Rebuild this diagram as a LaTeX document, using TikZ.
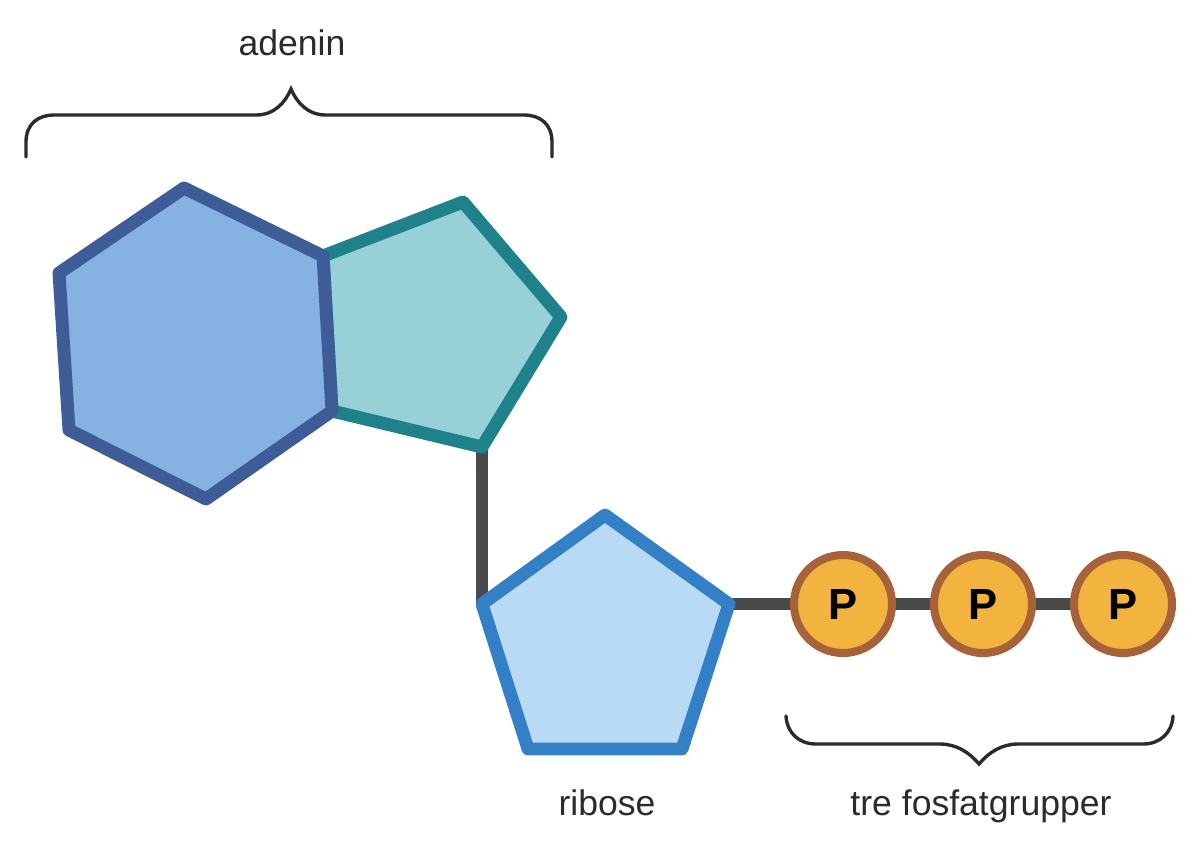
\documentclass[tikz,border=0pt]{standalone}
\usepackage{fontspec}
\setmainfont{Liberation Sans}
\definecolor{hexfill}{HTML}{86B1E3}
\definecolor{hexline}{HTML}{3E5C97}
\definecolor{penfill}{HTML}{98D0D8}
\definecolor{penline}{HTML}{1F8189}
\definecolor{ribfill}{HTML}{B9DAF4}
\definecolor{ribline}{HTML}{3480C6}
\definecolor{bondcol}{HTML}{4A4A4A}
\definecolor{phosfill}{HTML}{F2B33F}
\definecolor{phosline}{HTML}{A8623A}
\definecolor{txtcol}{HTML}{2B2B2B}
\tikzset{
  ring/.style={line width=9.2pt,line join=round},
  bond/.style={line width=9pt,bondcol},
  brace/.style={line width=2.4pt,txtcol,line cap=round},
  label/.style={anchor=base,font=\fontsize{25.3}{30}\selectfont,text=txtcol,inner sep=0pt},
  phos/.style={circle,draw=phosline,fill=phosfill,line width=5.7pt,minimum size=2.45cm,inner sep=0pt,font=\bfseries\fontsize{31}{36}\selectfont}
}
\begin{document}
\begin{tikzpicture}[x=0.025cm,y=-0.025cm]
\useasboundingbox (0,0) rectangle (1200,857);
% hexagon
\coordinate (H1) at (184,188);
\coordinate (H2) at (323,256);
\coordinate (H3) at (332,411);
\coordinate (H4) at (206,499);
\coordinate (H5) at (69,430);
\coordinate (H6) at (59,273);
% pentagon
\coordinate (A1) at (463,202);
\coordinate (A2) at (561,317);
\coordinate (A3) at (482,447);
% ribose
\coordinate (R1) at (605,515);
\coordinate (R2) at (729,604);
\coordinate (R3) at (682,749);
\coordinate (R4) at (528,749);
\coordinate (R5) at (482,604);

% bonds
\coordinate (P1c) at (843,604);
\coordinate (P3c) at (1123,604);
\draw[bond] (A3) -- (R5);
\draw[bond] (R2) -- (P3c);

% rings
\draw[ring,draw=penline,fill=penfill] (H2) -- (A1) -- (A2) -- (A3) -- (H3) -- cycle;
\draw[ring,draw=hexline,fill=hexfill] (H1) -- (H2) -- (H3) -- (H4) -- (H5) -- (H6) -- cycle;
\draw[ring,draw=ribline,fill=ribfill] (R1) -- (R2) -- (R3) -- (R4) -- (R5) -- cycle;

% phosphates
\node[phos] (P1) at (P1c) {P};
\node[phos] (P2) at (983,604) {P};
\node[phos] (P3) at (P3c) {P};

% braces
\draw[brace] (26,157) -- (26,142) .. controls (26,124) and (38,115) .. (54,115) -- (256,115)
  .. controls (274,115) and (285,103) .. (291,89)
  .. controls (297,103) and (308,115) .. (326,115) -- (524,115)
  .. controls (540,115) and (552,124) .. (552,142) -- (552,157);
\draw[brace] (786,716) .. controls (787,733) and (799,744) .. (816,744) -- (940,744)
  .. controls (956,744) and (969,752) .. (979,764)
  .. controls (989,752) and (1002,744) .. (1018,744) -- (1143,744)
  .. controls (1160,744) and (1172,733) .. (1173,716);

% labels
\node[label] (adenin) at (292,55) {adenin};
\node[label] (ribose) at (607,815) {ribose};
\node[label] (tre) at (981,815) {tre fosfatgrupper};
\end{tikzpicture}
\end{document}
